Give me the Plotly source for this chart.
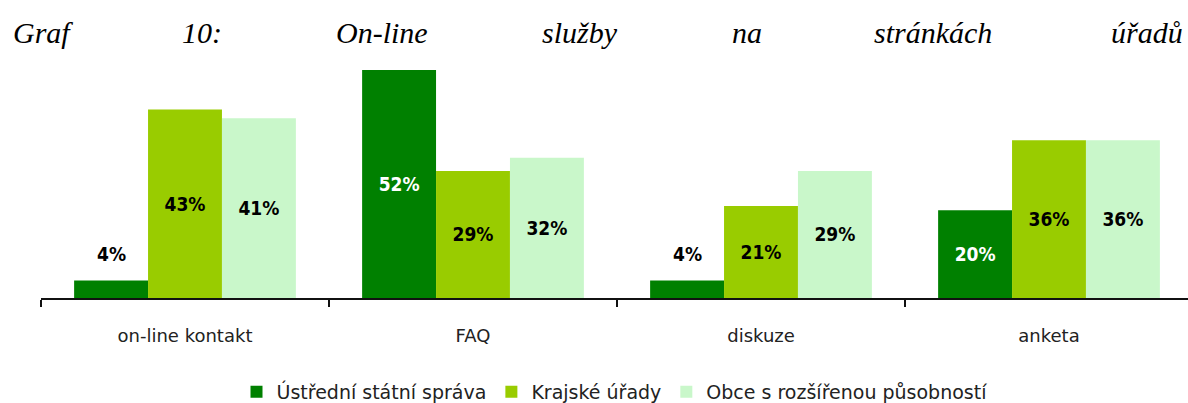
import plotly.graph_objects as go

categories = ["on-line kontakt", "FAQ", "diskuze", "anketa"]
series_names = ["Ústřední státní správa", "Krajské úřady", "Obce s rozšířenou působností"]
ustredni = [4, 52, 4, 20]
krajske = [43, 29, 21, 36]
obce = [41, 32, 29, 36]
title_words = ["Graf", "10:", "On-line", "služby", "na", "stránkách", "úřadů"]

colors = ["#008000", "#99CC00", "#C9F7CA"]
inside_text_colors = ["white", "black", "black"]

W, H = 1188, 403
ML, MR, MT, MB = 41, 0, 60, 105
plot_w = W - ML - MR
plot_h = H - MT - MB
cat_px = 288.0
x_span = plot_w / cat_px
ymax = 54.3
bargap = 0.23
bar_px = cat_px * (1 - bargap) / 3
label_font = "DejaVu Sans Condensed, Liberation Sans, Arial, sans-serif"

fig = go.Figure()
annotations = []
all_series = [ustredni, krajske, obce]
for i, (name, vals) in enumerate(zip(series_names, all_series)):
    texts = []
    for j, v in enumerate(vals):
        if v < 10:
            texts.append("")
            annotations.append(dict(
                x=categories[j], y=v, xref="x", yref="y",
                text=f"<b>{v}%</b>", showarrow=False,
                xshift=(i - 1) * bar_px, yshift=26, yanchor="middle",
                font=dict(family=label_font, size=19, color="black"),
            ))
        else:
            texts.append(f"<b>{v}%</b>")
    fig.add_trace(go.Bar(
        name=name, x=categories, y=vals,
        marker=dict(color=colors[i], line=dict(width=0)),
        text=texts, textposition="inside", insidetextanchor="middle",
        textangle=0,
        textfont=dict(family=label_font, size=19, color=inside_text_colors[i]),
        hoverinfo="skip",
    ))

# Title words, justified across the top
title_left_px = [11, 180, 334, 540, 730, 872, 1109]
for word, px in zip(title_words, title_left_px):
    annotations.append(dict(
        x=(px - ML) / plot_w, y=(plot_h + MT - 33) / plot_h,
        xref="paper", yref="paper", xanchor="left", yanchor="middle",
        text=f"<i>{word}</i>", showarrow=False,
        font=dict(family="Liberation Serif, Times New Roman, serif", size=30, color="black"),
    ))

fig.update_layout(
    width=W, height=H,
    margin=dict(l=ML, r=MR, t=MT, b=MB, pad=0, autoexpand=False),
    paper_bgcolor="white", plot_bgcolor="white",
    barmode="group", bargap=bargap, bargroupgap=0,
    showlegend=True,
    legend=dict(orientation="h", x=0.5, xanchor="center",
                y=(298 - 392) / plot_h, yanchor="middle",
                font=dict(family="DejaVu Sans, sans-serif", size=19, color="#222222"),
                traceorder="normal", itemclick=False, itemdoubleclick=False),
    annotations=annotations,
    uniformtext=dict(mode=False),
)
fig.update_xaxes(
    type="category", range=[-0.5, -0.5 + x_span],
    showline=True, linecolor="#111111", linewidth=2,
    ticks="outside", tickson="boundaries", ticklen=7, tickwidth=2, tickcolor="#111111",
    tickfont=dict(family="DejaVu Sans, sans-serif", size=18, color="#222222"),
    ticklabelstandoff=20,
    showgrid=False, zeroline=False, fixedrange=True,
    automargin=False,
)
fig.update_yaxes(
    range=[0, ymax], visible=False, showgrid=False, zeroline=False, fixedrange=True,
    automargin=False,
)

fig.write_html(
    "out.html",
    config={"displayModeBar": False},
    post_script="document.body.style.margin='0';document.body.style.overflow='hidden';",
)
